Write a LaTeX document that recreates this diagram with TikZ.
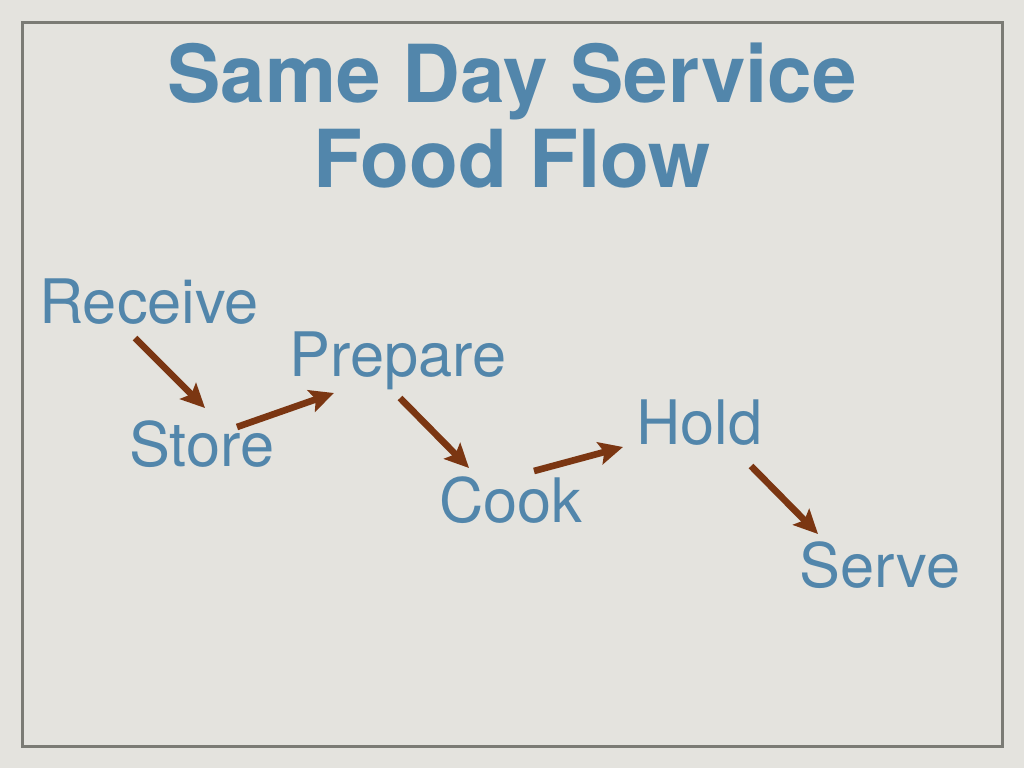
\documentclass[tikz,border=0pt]{standalone}
\usepackage{fontspec}
\setmainfont{TeX Gyre Heros}
\usetikzlibrary{arrows.meta,calc}
\definecolor{bgcol}{HTML}{E4E3DE}
\definecolor{framecol}{HTML}{7B7B75}
\definecolor{textblue}{HTML}{5286AB}
\definecolor{arrowbrown}{HTML}{7B3612}
\tikzset{
  titletext/.style={font=\fontsize{60}{64}\selectfont\bfseries, text=textblue, inner sep=0pt, anchor=base},
  steplabel/.style={font=\fontsize{46}{50}\selectfont, text=textblue, inner sep=0pt, anchor=base west},
  flowarrow/.style={draw=arrowbrown, line width=5pt, -{Stealth[length=18pt,width=17pt,inset=3.5pt]}}
}
\begin{document}
\begin{tikzpicture}[x=0.75pt,y=-0.75pt]
\useasboundingbox (0,0) rectangle (1024,768);
\fill[bgcol] (0,0) rectangle (1024,768);
\draw[framecol, line width=2.25pt] (22.5,22.5) rectangle (1002,746);
\node[titletext] (title1) at (512,102) {Same Day Service};
\node[titletext] (title2) at (512,187) {Food Flow};
\node[steplabel] (receive) at (39,323) {Receive};
\node[steplabel] (prepare) at (289,376) {Prepare};
\node[steplabel] (store) at (129,466) {Store};
\node[steplabel] (cook) at (439,522) {Cook};
\node[steplabel] (hold) at (636,444) {Hold};
\node[steplabel] (serve) at (799,587) {Serve};
\draw[flowarrow] ($(receive.base west)+(96,15)$) -- ($(store.base west)+(76,-58)$);
\draw[flowarrow] ($(store.base west)+(108,-39)$) -- ($(prepare.base west)+(45,17)$);
\draw[flowarrow] ($(prepare.base west)+(111,22)$) -- ($(cook.base west)+(30,-54)$);
\draw[flowarrow] ($(cook.base west)+(95,-51)$) -- ($(hold.base west)+(-13,3)$);
\draw[flowarrow] ($(hold.base west)+(115,22)$) -- ($(serve.base west)+(19,-53)$);
\end{tikzpicture}
\end{document}
